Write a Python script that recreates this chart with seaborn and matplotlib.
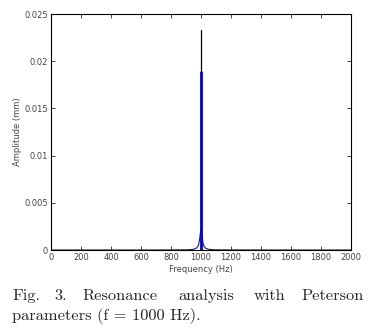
import matplotlib
matplotlib.use("Agg")
import matplotlib.pyplot as plt
import seaborn as sns
import pandas as pd

# Data
curve_freq = [0, 200, 400, 600, 800, 900, 920, 950, 970, 980, 985, 990, 995, 1000,
              1005, 1010, 1015, 1020, 1030, 1050, 1080, 1100, 1200, 1400, 1600, 1800, 2000]
curve_amp = [0.000001, 0.000001, 0.000002, 0.000003, 0.000006, 0.00002, 0.00003, 0.000077,
             0.0002, 0.00041, 0.00063, 0.00105, 0.00172, 0.0022,
             0.00172, 0.00105, 0.00063, 0.00041, 0.0002, 0.000077, 0.00003, 0.00002,
             0.000006, 0.000003, 0.000002, 0.000001, 0.000001]
spike_black_freq = [1002, 1002]
spike_black_amp = [0.0, 0.0233]
spike_blue_freq = [998, 998]
spike_blue_amp = [0.0, 0.0189]

xticks = [0, 200, 400, 600, 800, 1000, 1200, 1400, 1600, 1800, 2000]
yticks = [0, 0.005, 0.01, 0.015, 0.02, 0.025]
ytick_labels = ["0", "0.005", "0.01", "0.015", "0.02", "0.025"]

sns.set_style("ticks")
plt.rcParams['font.family'] = ['DejaVu Sans']

fig = plt.figure(figsize=(3.7, 3.3), dpi=100)
ax = fig.add_axes([51/370, 1-250/330, 300/370, 236/330])

df_c = pd.DataFrame({"f": curve_freq, "a": curve_amp})
df_k = pd.DataFrame({"f": spike_black_freq, "a": spike_black_amp})
df_b = pd.DataFrame({"f": spike_blue_freq, "a": spike_blue_amp})

sns.lineplot(data=df_c, x="f", y="a", ax=ax, color="#1a1a80", lw=0.8, estimator=None, sort=False)
sns.lineplot(data=df_k, x="f", y="a", ax=ax, color="black", lw=0.9, estimator=None, sort=False)
sns.lineplot(data=df_b, x="f", y="a", ax=ax, color="#0000e0", lw=2.0, estimator=None, sort=False)

ax.set_xlim(0, 2000)
ax.set_ylim(0, 0.025)
ax.set_xticks(xticks)
ax.set_xticklabels([str(t) for t in xticks])
ax.set_yticks(yticks)
ax.set_yticklabels(ytick_labels)
ax.tick_params(direction="in", length=3, width=0.6, labelsize=6, labelcolor="#444444",
               top=True, right=True, pad=2)
for s in ax.spines.values():
    s.set_visible(True)
    s.set_linewidth(0.8)
    s.set_color("black")
ax.set_xlabel("Frequency (Hz)", fontsize=6, color="#444444", labelpad=2)
ax.set_ylabel("Amplitude (mm)", fontsize=6, color="#444444", labelpad=2)

# caption (justified first line), Computer Modern shipped with matplotlib
cap_font = dict(fontsize=11.8, family=["cmr10", "DejaVu Serif"], va="baseline")
words = [("Fig.", 12, "left"), ("3.", 54, "left"), ("Resonance", 82, "left"),
         ("analysis", 178, "left"), ("with", 254, "left"), ("Peterson", 364, "right")]
for w, x, ha in words:
    fig.text(x/370, 1-300/330, w, ha=ha, **cap_font)
fig.text(12/370, 1-320/330, "parameters (f = 1000 Hz).", ha="left", **cap_font)

fig.savefig("out.png", dpi=100)
